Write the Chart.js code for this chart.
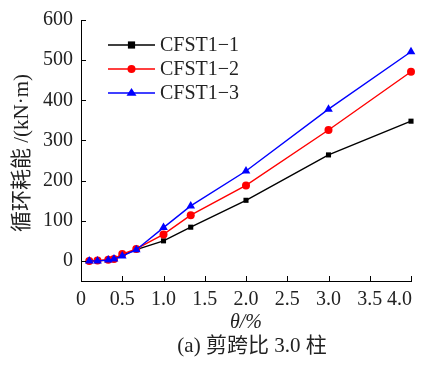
<!DOCTYPE html>
<html><head><meta charset="utf-8">
<script src="https://cdn.jsdelivr.net/npm/chart.js@4/dist/chart.umd.min.js"></script>
<style>html,body{margin:0;padding:0;background:#fff}#wrap{width:424px;height:377px}</style>
</head><body><div id="wrap"><canvas id="c" width="424" height="377"></canvas></div>
<script>
// Drift ratio θ (%) at each loading level
const theta = [0.1, 0.2, 0.33, 0.4, 0.5, 0.67, 1.0, 1.33, 2.0, 3.0, 4.0];
// Cumulative hysteretic energy (kN·m)
const cfst1_1 = [0, 0, 2, 4, 14, 28, 50, 84, 151, 264, 348];
const cfst1_2 = [0, 1, 3, 5, 17, 30, 66, 114, 188, 326, 471];
const cfst1_3 = [0, 0, 2, 5, 12, 28, 83, 137, 224, 378, 521];
const seriesNames = ['CFST1\u22121', 'CFST1\u22122', 'CFST1\u22123'];
const xTicks = [0, 0.5, 1.0, 1.5, 2.0, 2.5, 3.0, 3.5, 4.0];
const yTicks = [0, 100, 200, 300, 400, 500, 600];
const xTitle = 'θ/%';
const yTitle = '循环耗能 /(kN·m)';
const caption = '(a) 剪跨比 3.0 柱';

const FONT = "'Liberation Serif', 'Noto Sans CJK SC', serif";
const TXT = '#222';

const styles = [
  { color: '#000000', point: 'rect', radius: 3.6 },
  { color: '#ff0000', point: 'circle', radius: 4 },
  { color: '#0000ff', point: 'triangle', radius: 5 }
];
const values = [cfst1_1, cfst1_2, cfst1_3];

function toPoints(ys) { return theta.map((t, i) => ({ x: t, y: ys[i] })); }

const datasets = values.map((ys, i) => ({
  label: seriesNames[i],
  data: toPoints(ys),
  borderColor: styles[i].color,
  backgroundColor: styles[i].color,
  borderWidth: 1.4,
  pointStyle: styles[i].point,
  pointRadius: styles[i].radius,
  pointBorderWidth: 0,
  pointHoverRadius: styles[i].radius,
  tension: 0,
  clip: false,
  order: 3 - i
}));

function drawMarker(ctx, style, x, y, r, color) {
  ctx.fillStyle = color;
  ctx.beginPath();
  if (style === 'rect') {
    ctx.rect(x - r, y - r, 2 * r, 2 * r);
  } else if (style === 'circle') {
    ctx.arc(x, y, r, 0, Math.PI * 2);
  } else {
    ctx.moveTo(x, y - r);
    ctx.lineTo(x + r, y + r * 0.55);
    ctx.lineTo(x - r, y + r * 0.55);
    ctx.closePath();
  }
  ctx.fill();
}

const fmtX = v => (v === 0 ? '0' : Number(v).toFixed(1));

const decor = {
  id: 'decor',
  afterDraw(chart) {
    const ctx = chart.ctx;
    const xs = chart.scales.x, ys = chart.scales.y;
    const area = chart.chartArea;
    ctx.save();
    // inward tick marks
    ctx.strokeStyle = '#000';
    ctx.lineWidth = 1;
    ctx.beginPath();
    xTicks.forEach(v => {
      const px = Math.round(xs.getPixelForValue(v)) + 0.5;
      ctx.moveTo(px, area.bottom);
      ctx.lineTo(px, area.bottom - 5);
    });
    yTicks.forEach(v => {
      const py = Math.round(ys.getPixelForValue(v)) + 0.5;
      ctx.moveTo(area.left, py);
      ctx.lineTo(area.left + 5, py);
    });
    ctx.stroke();

    // x tick labels; the last one is kept inside the figure edge
    ctx.fillStyle = TXT;
    ctx.textBaseline = 'middle';
    ctx.font = '20px ' + FONT;
    xTicks.forEach((v, i) => {
      const px = xs.getPixelForValue(v);
      if (i === xTicks.length - 1) {
        ctx.textAlign = 'right';
        ctx.fillText(fmtX(v), px + 1, 300);
      } else {
        ctx.textAlign = 'center';
        ctx.fillText(fmtX(v), px, 300);
      }
    });

    // axis titles and caption
    ctx.textAlign = 'center';
    ctx.font = "italic 20px 'Liberation Serif', serif";
    ctx.fillText(xTitle, (area.left + area.right) / 2, 323);
    ctx.font = '21px ' + FONT;
    ctx.fillText(caption, 252, 346);
    ctx.save();
    ctx.translate(22, 153);
    ctx.rotate(-Math.PI / 2);
    ctx.font = '21px ' + FONT;
    ctx.fillText(yTitle, 0, 0);
    ctx.restore();

    // legend: line with marker, then label
    const rows = [45, 69, 93];
    ctx.textAlign = 'left';
    ctx.font = '20px ' + FONT;
    rows.forEach((ry, i) => {
      ctx.strokeStyle = styles[i].color;
      ctx.lineWidth = 1.4;
      ctx.beginPath();
      ctx.moveTo(108, ry);
      ctx.lineTo(155, ry);
      ctx.stroke();
      drawMarker(ctx, styles[i].point, 131.5, ry, styles[i].radius, styles[i].color);
      ctx.fillStyle = TXT;
      ctx.fillText(seriesNames[i], 160, ry + 1);
    });
    ctx.restore();
  }
};

new Chart(document.getElementById('c'), {
  type: 'line',
  data: { datasets },
  options: {
    responsive: false,
    devicePixelRatio: 1,
    animation: false,
    events: [],
    layout: { padding: { top: 16, right: 13, left: 0, bottom: 0 } },
    plugins: { legend: { display: false }, tooltip: { enabled: false } },
    scales: {
      x: {
        type: 'linear',
        min: 0, max: 4,
        afterBuildTicks: s => { s.ticks = xTicks.map(v => ({ value: v })); },
        afterFit: s => { s.height = 96; s.paddingLeft = 0; s.paddingRight = 0; },
        grid: { display: false, drawTicks: false },
        border: { display: true, color: '#000', width: 1 },
        ticks: { display: false }
      },
      y: {
        type: 'linear',
        min: -50, max: 600,
        afterBuildTicks: s => { s.ticks = yTicks.map(v => ({ value: v })); },
        afterFit: s => { s.width = 81; },
        grid: { display: false, drawTicks: false },
        border: { display: true, color: '#000', width: 1 },
        ticks: {
          color: TXT,
          padding: 8,
          autoSkip: false,
          font: { family: FONT, size: 20 },
          callback: v => String(v)
        }
      }
    }
  },
  plugins: [decor]
});
</script>
</body></html>
